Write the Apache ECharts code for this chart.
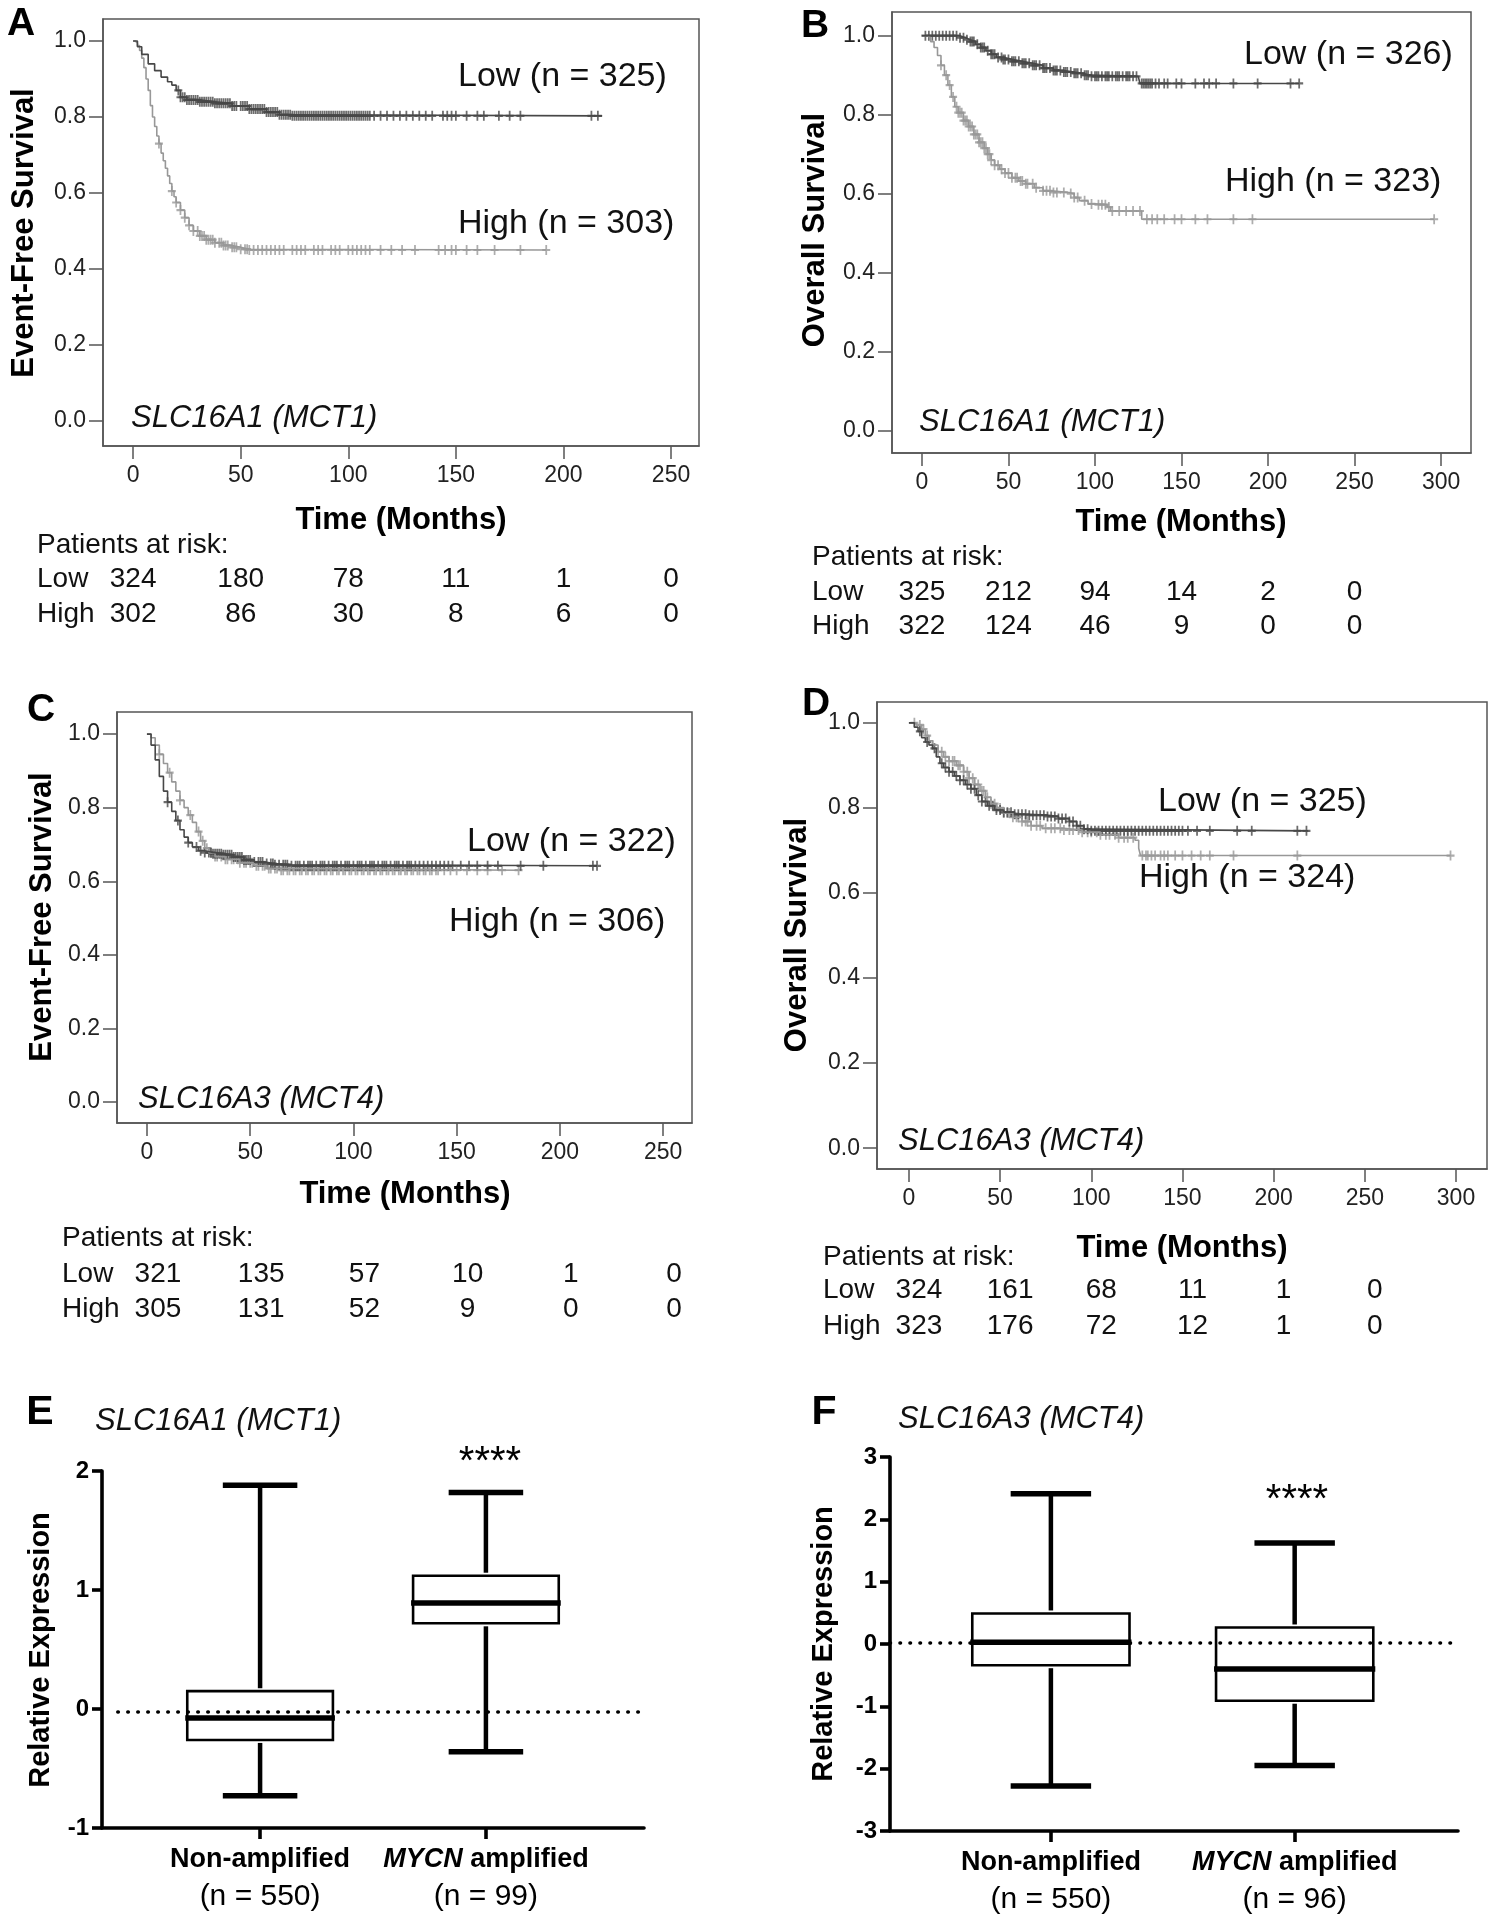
<!DOCTYPE html>
<html>
<head>
<meta charset="utf-8">
<title>MCT1 / MCT4 survival and expression</title>
<script src="https://cdn.jsdelivr.net/npm/echarts@6.0.0/dist/echarts.min.js"></script>
<style>
  html, body { margin: 0; padding: 0; background: #fff; }
  #main { width: 1491px; height: 1920px; }
</style>
</head>
<body>
<div id="main"></div>
<script>
// Kaplan-Meier steps [months, survival]
const efsMct1Low = [[0,1],[2,0.985],[4,0.965],[7,0.94],[10,0.922],[13,0.905],[16,0.893],[18,0.884],[20,0.87],[22,0.852],[25,0.845],[31,0.84],[38,0.836],[46,0.829],[54,0.821],[62,0.813],[68,0.806],[74,0.803],[218,0.803]];
const efsMct1High = [[0,1],[1,0.995],[2,0.988],[3,0.975],[4,0.955],[5,0.93],[6,0.9],[7,0.87],[8,0.83],[9,0.8],[10,0.775],[11,0.75],[12,0.73],[13,0.705],[14,0.685],[15,0.665],[16,0.645],[17,0.625],[18,0.605],[19,0.59],[20,0.575],[22,0.555],[24,0.535],[26,0.515],[28,0.5],[31,0.487],[34,0.477],[38,0.469],[42,0.462],[46,0.457],[50,0.452],[54,0.45],[192,0.45]];
const osMct1Low = [[0,1],[20,1],[22,0.995],[25,0.99],[28,0.985],[31,0.978],[34,0.97],[37,0.962],[40,0.953],[43,0.945],[47,0.94],[52,0.935],[58,0.93],[64,0.925],[70,0.918],[76,0.912],[82,0.908],[88,0.905],[93,0.9],[97,0.897],[125,0.897],[126,0.879],[218,0.879]];
const osMct1High = [[0,1],[3,0.995],[5,0.985],[7,0.97],[9,0.95],[11,0.925],[13,0.9],[15,0.875],[17,0.845],[19,0.82],[21,0.805],[24,0.785],[27,0.77],[30,0.75],[33,0.73],[36,0.715],[38,0.7],[40,0.685],[42,0.672],[45,0.662],[48,0.652],[52,0.64],[56,0.632],[60,0.625],[65,0.615],[70,0.607],[75,0.603],[85,0.6],[88,0.59],[91,0.582],[96,0.574],[100,0.572],[107,0.566],[109,0.556],[125,0.556],[127,0.535],[296,0.535]];
const efsMct4Low = [[0,1],[2,0.97],[4,0.93],[6,0.885],[8,0.845],[10,0.815],[12,0.79],[14,0.765],[16,0.74],[18,0.72],[20,0.705],[22,0.693],[25,0.683],[28,0.678],[32,0.675],[37,0.672],[42,0.666],[47,0.658],[52,0.652],[57,0.648],[62,0.645],[70,0.642],[218,0.642]];
const efsMct4High = [[0,1],[2,0.99],[4,0.97],[6,0.945],[8,0.92],[10,0.895],[12,0.87],[14,0.845],[16,0.82],[18,0.8],[20,0.78],[22,0.76],[24,0.735],[26,0.71],[28,0.69],[30,0.677],[33,0.667],[38,0.66],[45,0.65],[52,0.642],[58,0.635],[64,0.63],[180,0.63]];
const osMct4Low = [[0,1],[3,0.99],[5,0.98],[7,0.965],[9,0.955],[11,0.948],[13,0.94],[15,0.92],[17,0.905],[19,0.895],[22,0.885],[25,0.875],[28,0.865],[31,0.855],[34,0.845],[37,0.83],[40,0.815],[43,0.805],[47,0.795],[52,0.79],[58,0.785],[66,0.783],[75,0.78],[82,0.775],[88,0.768],[92,0.758],[96,0.75],[100,0.746],[219,0.746]];
const osMct4High = [[0,1],[4,0.995],[7,0.985],[9,0.97],[11,0.958],[13,0.948],[16,0.932],[19,0.92],[22,0.91],[26,0.9],[30,0.885],[33,0.87],[36,0.855],[39,0.84],[42,0.825],[45,0.81],[48,0.8],[52,0.788],[57,0.778],[62,0.768],[67,0.758],[73,0.752],[85,0.748],[95,0.743],[105,0.737],[115,0.73],[124,0.724],[126,0.705],[127,0.688],[297,0.688]];

// censored times (months)
const efsMct1LowCens = [21,22,23,24,25,26,27,28,29,30,31,32,33,34,35,36,37,38,39,40,41,42,43,44,45,46,47,48,50,51,52,53,54,55,56,57,58,59,60,61,62,63,64,65,66,67,68,69,70,71,72,73,74,75,76,77,78,79,80,81,82,83,84,85,86,87,88,89,90,91,92,93,94,95,96,97,98,99,100,101,102,103,104,105,106,107,108,109,110,112,115,118,121,124,127,130,133,136,139,144,146,148,150,155,160,163,170,175,180,213,216];
const efsMct1HighCens = [12,18,20,22,24,26,28,30,31,32,33,34,35,36,37,38,40,41,42,43,44,46,47,48,50,52,53,54,56,58,60,62,64,66,68,70,74,76,78,80,84,86,88,92,94,96,100,102,104,106,108,110,115,120,125,131,142,145,148,150,155,160,168,180,192];
const osMct1LowCens = [2,4,6,8,10,12,14,16,18,20,22,24,26,28,29,30,32,34,35,36,38,40,41,42,44,46,47,48,50,52,53,54,56,58,59,60,62,64,65,66,68,70,71,72,74,76,77,78,80,82,83,84,86,88,89,90,92,94,95,96,98,100,101,102,104,106,107,108,110,112,113,114,116,118,119,120,122,124,127,128,129,130,131,132,133,135,137,140,142,147,150,158,163,166,170,180,194,213,218];
const osMct1HighCens = [11,14,16,18,20,21,22,23,24,25,26,27,28,29,30,31,32,33,34,35,36,37,38,39,40,42,44,46,48,50,52,54,55,57,58,60,61,64,66,70,72,74,76,78,82,86,88,90,94,98,102,104,106,108,110,114,118,122,126,130,133,136,140,146,150,158,165,180,191,296];
const efsMct4LowCens = [10,15,20,24,26,28,30,31,32,33,34,35,36,37,38,39,40,41,42,43,44,45,46,47,48,49,50,52,54,55,56,58,60,61,62,64,66,67,68,70,72,73,74,76,78,79,80,82,84,85,86,88,90,91,92,94,96,97,98,100,102,103,104,106,108,109,110,112,114,115,116,118,120,121,122,124,126,127,128,130,132,134,136,138,140,142,144,146,148,152,156,160,165,170,181,192,216,218];
const efsMct4HighCens = [6,11,16,21,25,27,29,31,33,34,36,38,39,41,42,44,45,47,48,50,51,53,54,56,57,59,60,62,63,65,66,68,69,71,72,74,75,77,78,80,81,83,84,86,87,89,90,92,93,95,96,98,99,101,102,104,105,107,108,110,111,113,114,116,117,119,120,122,123,125,126,128,129,131,132,134,135,137,138,140,141,144,147,150,155,160,165,172,180];
const osMct4LowCens = [6,10,14,18,20,22,24,26,28,30,32,34,36,38,40,42,44,46,48,50,52,54,56,58,60,62,64,66,68,70,72,74,76,78,80,82,84,86,88,90,92,94,96,98,100,102,104,106,108,110,112,114,116,118,120,122,124,126,128,130,132,134,136,138,140,142,144,146,148,150,153,158,165,180,188,213,218];
const osMct4HighCens = [3,6,8,10,13,16,18,20,22,24,25,27,28,30,32,33,35,36,38,40,41,43,45,47,48,50,52,54,55,57,59,60,62,64,65,67,70,72,75,78,80,83,85,88,90,93,95,98,100,103,105,108,110,113,115,118,120,123,128,130,131,133,135,138,140,142,146,150,155,160,165,178,213,297];

// patients at risk
const riskTimes = [0, 50, 100, 150, 200, 250];
const riskALow = [324, 180, 78, 11, 1, 0];
const riskAHigh = [302, 86, 30, 8, 6, 0];
const riskBLow = [325, 212, 94, 14, 2, 0];
const riskBHigh = [322, 124, 46, 9, 0, 0];
const riskCLow = [321, 135, 57, 10, 1, 0];
const riskCHigh = [305, 131, 52, 9, 0, 0];
const riskDLow = [324, 161, 68, 11, 1, 0];
const riskDHigh = [323, 176, 72, 12, 1, 0];

const survTicks = [0, 0.2, 0.4, 0.6, 0.8, 1.0];
const monthTicks250 = [0, 50, 100, 150, 200, 250];
const monthTicks300 = [0, 50, 100, 150, 200, 250, 300];

// box plots: [min, q1, median, q3, max]
const groupNames = ['Non-amplified', 'MYCN amplified'];
const mct1Expr = [[-0.73, -0.26, -0.075, 0.15, 1.88], [-0.36, 0.72, 0.89, 1.12, 1.82]];
const mct1Counts = [550, 99];
const mct4Expr = [[-2.28, -0.34, 0.03, 0.49, 2.41], [-1.95, -0.91, -0.40, 0.265, 1.62]];
const mct4Counts = [550, 96];
const mct1RefLine = -0.025;
const mct4RefLine = 0.02;

const FONT = '"Liberation Sans", Arial, Helvetica, sans-serif';
const LOW_C = '#474747', HIGH_C = '#989898';
const PLUS = 'path://M3.9,0H6.1V3.9H10V6.1H6.1V10H3.9V6.1H0V3.9H3.9Z';

const kmPanels = [
  {tag: 'A', box: [103, 19, 596, 427], x: [-14, 263], y: [-0.066, 1.058], ticks: monthTicks250,
   low: efsMct1Low, high: efsMct1High, lowCens: efsMct1LowCens, highCens: efsMct1HighCens,
   riskLow: riskALow, riskHigh: riskAHigh, riskShift: 0,
   lowTxt: 'Low (n = 325)', highTxt: 'High (n = 303)', gene: 'SLC16A1 (MCT1)', yName: 'Event-Free Survival',
   pos: {tag: [21, 24], low: [458, 77], high: [458, 224], gene: [131, 418], yName: [24, 233],
         time: [401, 520], risk: [37, 545], rows: [579, 614]}},
  {tag: 'B', box: [892, 12, 579, 441], x: [-17.3, 317.3], y: [-0.057, 1.06], ticks: monthTicks300,
   low: osMct1Low, high: osMct1High, lowCens: osMct1LowCens, highCens: osMct1HighCens,
   riskLow: riskBLow, riskHigh: riskBHigh, riskShift: 0,
   lowTxt: 'Low (n = 326)', highTxt: 'High (n = 323)', gene: 'SLC16A1 (MCT1)', yName: 'Overall Survival',
   pos: {tag: [815, 26], low: [1244, 55], high: [1225, 182], gene: [919, 422], yName: [815, 230],
         time: [1181, 522], risk: [812, 557], rows: [592, 626]}},
  {tag: 'C', box: [117, 712, 575, 411], x: [-14.5, 264], y: [-0.057, 1.06], ticks: monthTicks250,
   low: efsMct4Low, high: efsMct4High, lowCens: efsMct4LowCens, highCens: efsMct4HighCens,
   riskLow: riskCLow, riskHigh: riskCHigh, riskShift: 11,
   lowTxt: 'Low (n = 322)', highTxt: 'High (n = 306)', gene: 'SLC16A3 (MCT4)', yName: 'Event-Free Survival',
   pos: {tag: [41, 710], low: [467, 842], high: [449, 922], gene: [138, 1099], yName: [42, 917],
         time: [405, 1194], risk: [62, 1238], rows: [1274, 1309]}},
  {tag: 'D', box: [877, 702, 610, 467], x: [-17.5, 317], y: [-0.049, 1.049], ticks: monthTicks300,
   low: osMct4Low, high: osMct4High, lowCens: osMct4LowCens, highCens: osMct4HighCens,
   riskLow: riskDLow, riskHigh: riskDHigh, riskShift: 10,
   lowTxt: 'Low (n = 325)', highTxt: 'High (n = 324)', gene: 'SLC16A3 (MCT4)', yName: 'Overall Survival',
   pos: {tag: [816, 704], low: [1158, 802], high: [1139, 878], gene: [898, 1141], yName: [797, 935],
         time: [1182, 1248], risk: [823, 1257], rows: [1290, 1326]}}
];

const boxPanels = [
  {tag: 'E', box: [102, 1471, 542, 357], x: [0.3, 2.7], y: [-1, 2], data: mct1Expr, counts: mct1Counts,
   ref: mct1RefLine, refFrom: 0.37, gene: 'SLC16A1 (MCT1)',
   pos: {tag: [40, 1413], gene: [95, 1421], stars: [490, 1463], yName: [41, 1650]}},
  {tag: 'F', box: [890, 1457, 568, 374], x: [0.34, 2.67], y: [-3, 3], data: mct4Expr, counts: mct4Counts,
   ref: mct4RefLine, refFrom: 0.34, gene: 'SLC16A3 (MCT4)',
   pos: {tag: [824, 1413], gene: [898, 1419], stars: [1297, 1501], yName: [824, 1644]}}
];

function survAt(steps, t) {
  let s = steps[0][1];
  for (const p of steps) {
    if (p[0] <= t) s = p[1]; else break;
  }
  return s;
}

function label(text, x, y, size, o) {
  o = o || {};
  const font = (o.italic ? 'italic ' : '') + (o.bold ? 'bold ' : '') + size + 'px ' + FONT;
  const align = o.align || 'left';
  return {
    type: 'text', x: x, y: y, rotation: o.rot || 0, silent: true, z: 100,
    style: {text: text, font: font, fill: o.color || '#111', align: align, verticalAlign: 'middle',
            textAlign: align, textVerticalAlign: 'middle'}
  };
}

const chart = echarts.init(document.getElementById('main'));
const grids = [], xAxes = [], yAxes = [], series = [];

kmPanels.forEach(function (p, i) {
  grids.push({left: p.box[0], top: p.box[1], width: p.box[2], height: p.box[3],
              show: true, borderColor: '#555', borderWidth: 1.5});
  xAxes.push({
    type: 'value', gridIndex: i, min: p.x[0], max: p.x[1],
    splitLine: {show: false},
    axisLine: {onZero: false, lineStyle: {color: '#555', width: 1.5}},
    axisTick: {customValues: p.ticks, length: 13, lineStyle: {color: '#555', width: 1.5}},
    axisLabel: {customValues: p.ticks, margin: 18, color: '#222', fontSize: 23, fontFamily: FONT}
  });
  yAxes.push({
    type: 'value', gridIndex: i, min: p.y[0], max: p.y[1],
    splitLine: {show: false},
    axisLine: {onZero: false, lineStyle: {color: '#555', width: 1.5}},
    axisTick: {customValues: survTicks, length: 14, lineStyle: {color: '#555', width: 1.5}},
    axisLabel: {customValues: survTicks, margin: 17, color: '#222', fontSize: 23, fontFamily: FONT,
                formatter: function (v) { return v.toFixed(1); }}
  });
  [[p.high, p.highCens, HIGH_C], [p.low, p.lowCens, LOW_C]].forEach(function (c) {
    series.push({
      type: 'line', xAxisIndex: i, yAxisIndex: i, data: c[0], step: 'end',
      showSymbol: false, lineStyle: {color: c[2], width: 1.6}, animation: false, silent: true
    });
    series.push({
      type: 'scatter', xAxisIndex: i, yAxisIndex: i, symbol: PLUS, symbolSize: [8, 10],
      itemStyle: {color: c[2]}, animation: false, silent: true,
      data: c[1].map(function (t) { return [t, survAt(c[0], t)]; })
    });
  });
});

function boxItem(params, api) {
  const x = api.value(0);
  const lo = api.value(1), q1 = api.value(2), med = api.value(3), q3 = api.value(4), hi = api.value(5);
  const bw = 0.645 / 2, cw = 0.33 / 2;
  const tl = api.coord([x - bw, q3]), br = api.coord([x + bw, q1]);
  const cx = api.coord([x, 0])[0];
  const m1 = api.coord([x - bw, med]), m2 = api.coord([x + bw, med]);
  const h1 = api.coord([x - cw, hi]), h2 = api.coord([x + cw, hi]);
  const l1 = api.coord([x - cw, lo]), l2 = api.coord([x + cw, lo]);
  const line = function (x1, y1, x2, y2, w) {
    return {type: 'line', shape: {x1: x1, y1: y1, x2: x2, y2: y2}, style: {stroke: '#000', lineWidth: w}};
  };
  return {type: 'group', children: [
    {type: 'rect', shape: {x: tl[0], y: tl[1], width: br[0] - tl[0], height: br[1] - tl[1]},
     style: {fill: 'none', stroke: '#000', lineWidth: 2.6}},
    line(m1[0] - 2, m1[1], m2[0] + 2, m2[1], 5.5),
    line(cx, h1[1], cx, tl[1] - 3, 4.5),
    line(cx, br[1] + 3, cx, l1[1], 4.5),
    line(h1[0], h1[1], h2[0], h2[1], 5.5),
    line(l1[0], l1[1], l2[0], l2[1], 5.5)
  ]};
}

boxPanels.forEach(function (p, k) {
  const i = kmPanels.length + k;
  grids.push({left: p.box[0], top: p.box[1], width: p.box[2], height: p.box[3], show: false});
  xAxes.push({
    type: 'value', gridIndex: i, min: p.x[0], max: p.x[1],
    splitLine: {show: false},
    axisLine: {onZero: false, lineStyle: {color: '#000', width: 3.6}},
    axisTick: {customValues: [1, 2], length: 11, lineStyle: {color: '#000', width: 3.6}},
    axisLabel: {
      customValues: [1, 2], margin: 13, color: '#000', fontFamily: FONT,
      formatter: function (v) {
        const name = groupNames[v - 1];
        const first = name.indexOf('MYCN') === 0 ? '{bi|MYCN}{b| amplified}' : '{b|' + name + '}';
        return first + '\n{n|(n = ' + p.counts[v - 1] + ')}';
      },
      rich: {
        b: {fontWeight: 'bold', fontSize: 27, lineHeight: 37, fontFamily: FONT, color: '#000'},
        bi: {fontWeight: 'bold', fontStyle: 'italic', fontSize: 27, lineHeight: 37, fontFamily: FONT, color: '#000'},
        n: {fontSize: 30, lineHeight: 37, fontFamily: FONT, color: '#000'}
      }
    }
  });
  yAxes.push({
    type: 'value', gridIndex: i, min: p.y[0], max: p.y[1], interval: 1,
    splitLine: {show: false},
    axisLine: {onZero: false, lineStyle: {color: '#000', width: 3.6}},
    axisTick: {length: 10, lineStyle: {color: '#000', width: 3.6}},
    axisLabel: {margin: 13, color: '#000', fontSize: 24, fontWeight: 'bold', fontFamily: FONT}
  });
  series.push({
    type: 'custom', xAxisIndex: i, yAxisIndex: i, renderItem: boxItem, animation: false, silent: true,
    encode: {x: 0, y: [1, 2, 3, 4, 5]},
    data: p.data.map(function (d, j) { return [j + 1].concat(d); }),
    markLine: {
      silent: true, symbol: 'none', label: {show: false}, animation: false,
      lineStyle: {color: '#000', width: 3.6, type: [0.5, 9.5], cap: 'round'},
      data: [[{coord: [p.refFrom, p.ref]}, {coord: [p.x[1], p.ref]}]]
    }
  });
});

chart.setOption({
  backgroundColor: '#fff',
  animation: false,
  grid: grids, xAxis: xAxes, yAxis: yAxes, series: series
});

// text annotations, risk table placed through each panel's time axis
const texts = [];
kmPanels.forEach(function (p, i) {
  const q = p.pos;
  texts.push(label(p.tag, q.tag[0], q.tag[1], 39, {bold: true, align: 'center', color: '#000'}));
  texts.push(label(p.lowTxt, q.low[0], q.low[1], 34));
  texts.push(label(p.highTxt, q.high[0], q.high[1], 34));
  texts.push(label(p.gene, q.gene[0], q.gene[1], 31, {italic: true}));
  texts.push(label(p.yName, q.yName[0], q.yName[1], 31, {bold: true, align: 'center', rot: Math.PI / 2, color: '#000'}));
  texts.push(label('Time (Months)', q.time[0], q.time[1], 31, {bold: true, align: 'center', color: '#000'}));
  texts.push(label('Patients at risk:', q.risk[0], q.risk[1], 28));
  texts.push(label('Low', q.risk[0], q.rows[0], 28));
  texts.push(label('High', q.risk[0], q.rows[1], 28));
  riskTimes.forEach(function (t, j) {
    const px = chart.convertToPixel({gridIndex: i}, [t, 0])[0] + p.riskShift;
    texts.push(label(String(p.riskLow[j]), px, q.rows[0], 28, {align: 'center'}));
    texts.push(label(String(p.riskHigh[j]), px, q.rows[1], 28, {align: 'center'}));
  });
});
boxPanels.forEach(function (p) {
  const q = p.pos;
  texts.push(label(p.tag, q.tag[0], q.tag[1], 41, {bold: true, align: 'center', color: '#000'}));
  texts.push(label(p.gene, q.gene[0], q.gene[1], 31, {italic: true}));
  texts.push(label('****', q.stars[0], q.stars[1], 40, {align: 'center', color: '#000'}));
  texts.push(label('Relative Expression', q.yName[0], q.yName[1], 29, {bold: true, align: 'center', rot: Math.PI / 2, color: '#000'}));
});

chart.setOption({graphic: {elements: texts}});
</script>
</body>
</html>
